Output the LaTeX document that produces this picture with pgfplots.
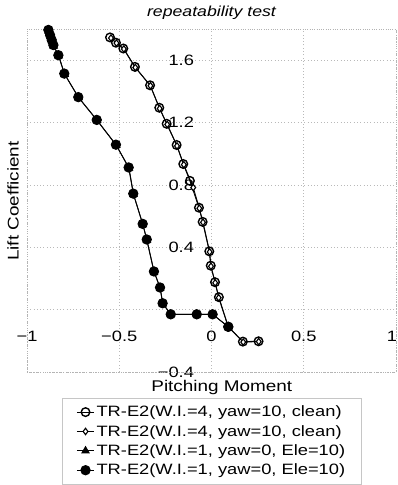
\documentclass[border=0pt]{standalone}
\usepackage{fontspec}
\setmainfont{Liberation Sans}[FakeStretch=1.22]
\usepackage{pgfplots}
\pgfplotsset{compat=1.18}
\begin{document}
\begin{tikzpicture}
\useasboundingbox (0,0) rectangle (397pt,485pt);
\begin{axis}[
  at={(27pt,113pt)}, anchor=south west,
  scale only axis, width=369pt, height=343pt,
  xmin=-1, xmax=1, ymin=-0.4, ymax=1.8,
  axis lines=middle, axis line style={draw=none},
  hide obscured x ticks=false, hide obscured y ticks=false,
  major tick length=0pt,
  xtick={-1,-0.5,0,0.5},
  xticklabels={−1,−0.5,0,0.5},
  extra x ticks={1}, extra x tick labels={1},
  extra x tick style={grid=major, xticklabel style={xshift=-4pt}},
  ytick={-0.4,0.4,0.8,1.2,1.6},
  yticklabels={−0.4,0.4,0.8,1.2,1.6},
  extra y ticks={0}, extra y tick labels={},
  extra y tick style={grid=major},
  grid=major,
  grid style={gray!55, line width=0.6pt, dash pattern=on 0.8pt off 2.5pt},
  xticklabel style={anchor=center, yshift=-27pt, font=\fontsize{15}{17}\selectfont},
  yticklabel style={anchor=east, xshift=-14pt, font=\fontsize{15}{17}\selectfont},
  clip=false,
  legend style={at={(rel axis cs:0.501,-0.075)}, anchor=north,
    draw=gray!45, line width=0.4pt, font=\fontsize{15}{18}\selectfont,
    inner xsep=14pt, inner ysep=6pt, row sep=3pt},
  legend cell align=left,
]
\draw[gray!60, line width=0.6pt, dash pattern=on 0.8pt off 1.5pt] (rel axis cs:0,0) rectangle (rel axis cs:1,1);
\addplot[black, line width=0.9pt, mark=o, mark size=4.3pt, mark options={fill=white, line width=1.4pt, solid}]
coordinates {(-0.550,1.746) (-0.518,1.712) (-0.478,1.675) (-0.415,1.557) (-0.333,1.439) (-0.283,1.295) (-0.243,1.192) (-0.189,1.056) (-0.153,0.934) (-0.117,0.826) (-0.068,0.654) (-0.048,0.563) (-0.012,0.374) (-0.004,0.282) (0.019,0.176) (0.040,0.080) (0.091,-0.110) (0.170,-0.205) (0.255,-0.203)};
\addlegendentry{TR-E2(W.I.=4, yaw=10, clean)}
\addplot[black, line width=0.9pt, mark=diamond*, mark size=3.2pt, mark options={fill=white, line width=1.1pt, solid}]
coordinates {(-0.545,1.742) (-0.515,1.710) (-0.475,1.672) (-0.413,1.553) (-0.331,1.436) (-0.281,1.290) (-0.240,1.188) (-0.187,1.050) (-0.150,0.930) (-0.099,0.783) (-0.066,0.650) (-0.046,0.560) (-0.010,0.370) (-0.003,0.278) (0.020,0.172) (0.039,0.076) (0.091,-0.112) (0.172,-0.208) (0.256,-0.205)};
\addlegendentry{TR-E2(W.I.=4, yaw=10, clean)}
\addplot[black, line width=0.9pt, mark=triangle*, mark size=4.2pt, mark options={fill=black, solid}]
coordinates {(-0.882,1.785) (-0.872,1.752) (-0.863,1.720) (-0.855,1.690) (-0.828,1.628) (-0.796,1.510) (-0.720,1.360) (-0.620,1.214) (-0.516,1.054) (-0.447,0.908) (-0.423,0.740) (-0.372,0.546) (-0.350,0.446) (-0.311,0.242) (-0.278,0.139) (-0.264,0.038) (-0.220,-0.030) (-0.080,-0.030) (0.006,-0.030) (0.091,-0.110)};
\addlegendentry{TR-E2(W.I.=1, yaw=0, Ele=10)}
\addplot[black, line width=0.9pt, mark=*, mark size=4.7pt, mark options={fill=black, solid}]
coordinates {(-0.884,1.794) (-0.875,1.761) (-0.866,1.729) (-0.857,1.697) (-0.830,1.632) (-0.798,1.514) (-0.722,1.363) (-0.622,1.217) (-0.518,1.058) (-0.449,0.912) (-0.424,0.744) (-0.373,0.550) (-0.351,0.450) (-0.312,0.245) (-0.279,0.142) (-0.265,0.041) (-0.221,-0.030) (-0.080,-0.030) (0.006,-0.030) (0.091,-0.110)};
\addlegendentry{TR-E2(W.I.=1, yaw=0, Ele=10)}
\node[font=\fontsize{14.5}{16}\selectfont\itshape] at ([yshift=16pt]rel axis cs:0.5,1) {repeatability test};
\node[font=\fontsize{15.5}{17}\selectfont] at ([yshift=-15pt]rel axis cs:0.528,0) {Pitching Moment};
\node[font=\fontsize{15.5}{17}\selectfont, rotate=90] at ([xshift=-14pt]rel axis cs:0,0.4985) {Lift Coefficient};
\end{axis}
\end{tikzpicture}
\end{document}
